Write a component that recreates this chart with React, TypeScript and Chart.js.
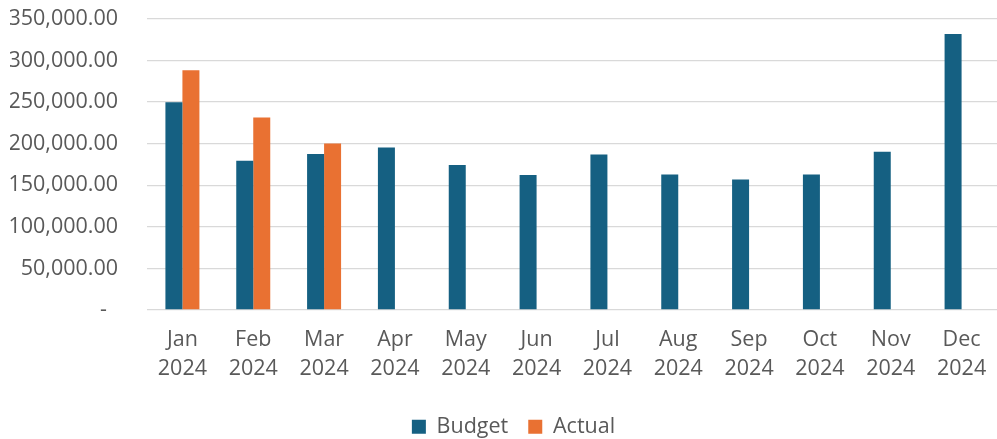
import React, { useEffect, useRef } from "react";
import { Chart, registerables } from "chart.js";

Chart.register(...registerables);

const months = ["Jan", "Feb", "Mar", "Apr", "May", "Jun", "Jul", "Aug", "Sep", "Oct", "Nov", "Dec"];
const year = "2024";
const budget = [250000, 179500, 187500, 195500, 174300, 162300, 187100, 163100, 157100, 163100, 190300, 332100];
const actual: (number | null)[] = [288500, 231600, 200300, null, null, null, null, null, null, null, null, null];
const yTicks = [0, 50000, 100000, 150000, 200000, 250000, 300000, 350000];

const FONT = "'Open Sans', sans-serif";
const TEXT = "#595959";

const legendShift = {
  id: "legendShift",
  afterLayout(chart: any) {
    const lg = chart.legend;
    if (lg) {
      lg.left += 10;
      lg.right += 10;
    }
  },
};

export default function App() {
  const ref = useRef<HTMLCanvasElement | null>(null);
  useEffect(() => {
    if (!ref.current) return;
    const chart = new Chart(ref.current, {
      type: "bar",
      data: {
        labels: months.map((m) => [m, year]),
        datasets: [
          { label: "Budget", data: budget, backgroundColor: "#156082", borderWidth: 0 },
          { label: "Actual", data: actual, backgroundColor: "#E97132", borderWidth: 0 },
        ],
      },
      plugins: [legendShift],
      options: {
        animation: false,
        responsive: true,
        maintainAspectRatio: false,
        layout: { padding: { top: 19, left: 10, right: 0, bottom: -8.5 } },
        datasets: { bar: { categoryPercentage: 0.48, barPercentage: 1 } },
        plugins: {
          legend: {
            position: "bottom",
            labels: {
              boxWidth: 14,
              boxHeight: 14,
              color: TEXT,
              font: { family: FONT, size: 21.5 },
              padding: 20,
            },
          },
          tooltip: { enabled: false },
        },
        scales: {
          x: {
            grid: { display: false, drawTicks: false },
            border: { display: false },
            afterFit: (s: any) => {
              s.height = 86;
              s.paddingLeft = 0;
              s.paddingRight = 0;
            },
            ticks: {
              color: TEXT,
              font: { family: FONT, size: 21.5, lineHeight: 1.33 },
              maxRotation: 0,
              autoSkip: false,
              padding: 16,
            },
          },
          y: {
            min: 0,
            max: 350000,
            afterBuildTicks: (axis: any) => {
              axis.ticks = yTicks.map((v) => ({ value: v }));
            },
            afterFit: (s: any) => {
              s.width = 137;
              s.paddingTop = 0;
              s.paddingBottom = 0;
            },
            grid: { color: "#d9d9d9", lineWidth: 1.3, drawTicks: false },
            border: { display: false },
            ticks: {
              color: TEXT,
              font: { family: FONT, size: 21.5 },
              padding: 29,
              callback: (v: any) =>
                Number(v) === 0
                  ? "-  "
                  : Number(v).toLocaleString("en-US", { minimumFractionDigits: 2, maximumFractionDigits: 2 }),
            },
          },
        },
      },
    });
    return () => chart.destroy();
  }, []);
  return (
    <div style={{ position: "fixed", left: 0, top: 0, width: 997, height: 439, background: "#fff" }}>
      <canvas ref={ref} />
    </div>
  );
}
